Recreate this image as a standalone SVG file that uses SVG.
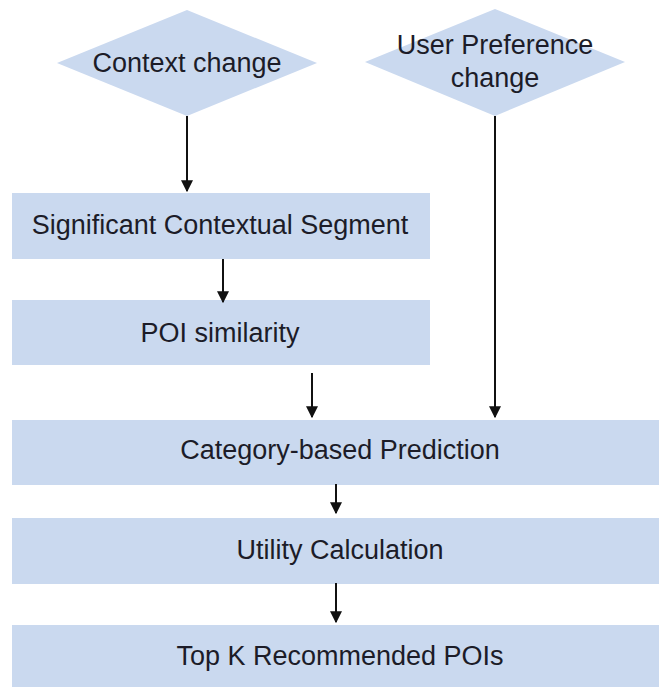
<svg xmlns="http://www.w3.org/2000/svg" width="659" height="687" viewBox="0 0 659 687">
  <style>
    .shape { fill: #cad9ef; stroke: none; }
    .label { font-family: "Liberation Sans", Arial, sans-serif; font-size: 27px; fill: #1c1c28; text-anchor: middle; }
    .edge { stroke: #111; stroke-width: 2; fill: none; marker-end: url(#arrow); }
  </style>
  <defs>
    <marker id="arrow" viewBox="0 0 10 10" refX="9" refY="5" markerWidth="6" markerHeight="6" orient="auto" markerUnits="strokeWidth">
      <path d="M0,0 L10,5 L0,10 Z" fill="#111"/>
    </marker>
  </defs>
  <rect width="659" height="687" fill="#ffffff"/>

  <g id="context-change">
    <polygon class="shape" points="187,10 317,63 187,116 57,63"/>
    <text class="label" x="187" y="72">Context change</text>
  </g>
  <g id="user-preference-change">
    <polygon class="shape" points="495,9 625,62 495,116 365,62"/>
    <text class="label" x="495" y="54">User Preference</text>
    <text class="label" x="495" y="87">change</text>
  </g>
  <g id="significant-segment">
    <rect class="shape" x="12" y="193" width="418" height="66"/>
    <text class="label" x="220" y="234">Significant Contextual Segment</text>
  </g>
  <g id="poi-similarity">
    <rect class="shape" x="12" y="300" width="418" height="65"/>
    <text class="label" x="220" y="342">POI similarity</text>
  </g>
  <g id="category-prediction">
    <rect class="shape" x="12" y="420" width="660" height="65"/>
    <text class="label" x="340" y="459">Category-based Prediction</text>
  </g>
  <g id="utility-calculation">
    <rect class="shape" x="12" y="518" width="660" height="66"/>
    <text class="label" x="340" y="559">Utility Calculation</text>
  </g>
  <g id="top-k">
    <rect class="shape" x="12" y="625" width="660" height="62"/>
    <text class="label" x="340" y="665">Top K Recommended POIs</text>
  </g>

  <g id="connectors">
    <line class="edge" x1="187" y1="116" x2="187" y2="191"/>
    <line class="edge" x1="223" y1="259" x2="223" y2="302"/>
    <line class="edge" x1="312" y1="373" x2="312" y2="417"/>
    <line class="edge" x1="495" y1="116" x2="495" y2="417"/>
    <line class="edge" x1="336" y1="484" x2="336" y2="513"/>
    <line class="edge" x1="336" y1="583" x2="336" y2="622"/>
  </g>
</svg>
